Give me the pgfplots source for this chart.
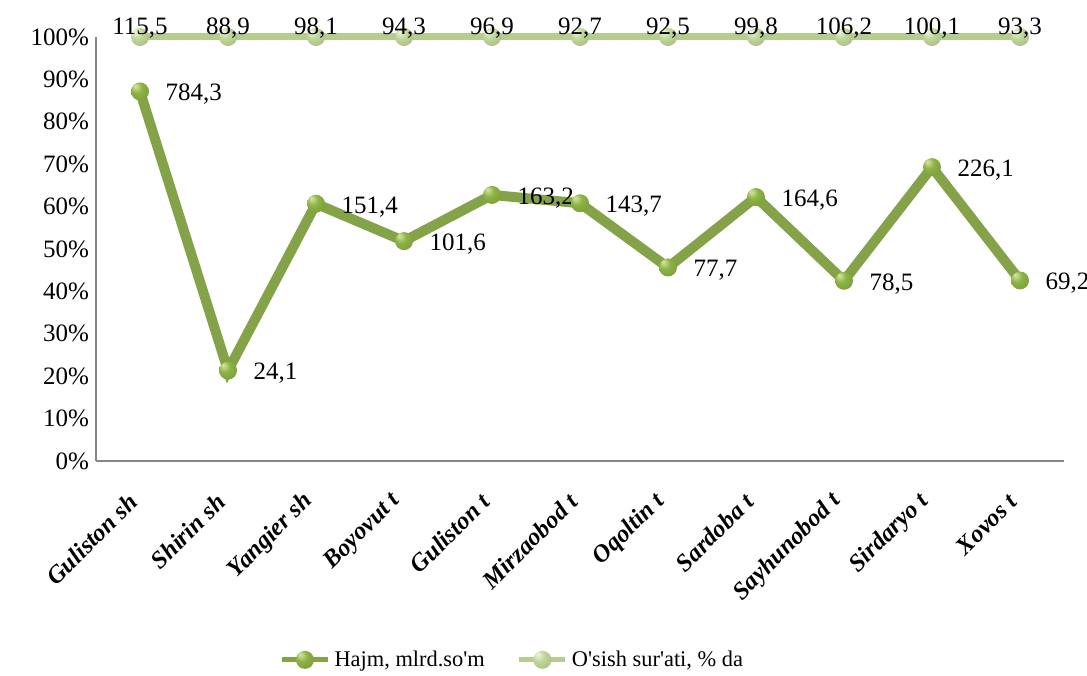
\documentclass[border=0pt]{standalone}
\usepackage{fontspec}
\setmainfont{Liberation Serif}
\usepackage{pgfplots}
\pgfplotsset{compat=1.18}
\usepackage{pgfplotstable}
\definecolor{hajm}{RGB}{132,163,72}
\definecolor{osish}{RGB}{181,205,145}
\definecolor{axgray}{RGB}{134,134,134}
\definecolor{hhl}{RGB}{215,232,165}
\definecolor{hmid}{RGB}{140,178,68}
\definecolor{hedge}{RGB}{92,122,40}
\definecolor{ohl}{RGB}{240,247,225}
\definecolor{omid}{RGB}{192,214,152}
\definecolor{oedge}{RGB}{140,165,105}

\pgfdeclareradialshading{hajmballsh}{\pgfpoint{-14bp}{16bp}}{color(0bp)=(hhl); color(16bp)=(hmid); color(40bp)=(hmid!85!black); color(50bp)=(hedge)}
\pgfdeclareradialshading{osishballsh}{\pgfpoint{-14bp}{16bp}}{color(0bp)=(ohl); color(16bp)=(omid); color(40bp)=(omid!85!black); color(50bp)=(oedge)}
\pgfdeclareplotmark{hball}{\pgfpathcircle{\pgfpointorigin}{\pgfplotmarksize}\pgfshadepath{hajmballsh}{0}\pgfusepath{}}
\pgfdeclareplotmark{oball}{\pgfpathcircle{\pgfpointorigin}{\pgfplotmarksize}\pgfshadepath{osishballsh}{0}\pgfusepath{}}

% Hajm plotted as share of (Hajm + O'sish) in a 100% stacked line chart
\pgfplotstableread{
x y lab
0 87.16 784,3
1 21.33 24,1
2 60.68 151,4
3 51.86 101,6
4 62.75 163,2
5 60.79 143,7
6 45.65 77,7
7 62.25 164,6
8 42.50 78,5
9 69.31 226,1
10 42.58 69,2
}\hajmtab

\pgfplotstableread{
x y lab
0 100 115,5
1 100 88,9
2 100 98,1
3 100 94,3
4 100 96,9
5 100 92,7
6 100 92,5
7 100 99,8
8 100 106,2
9 100 100,1
10 100 93,3
}\osishtab

\begin{document}
\begin{tikzpicture}
\path[use as bounding box] (0,0) rectangle (543.5pt,337.5pt);
\begin{axis}[
  at={(48pt,107pt)}, anchor=south west,
  scale only axis, width=484pt, height=212pt,
  xmin=-0.5, xmax=10.5, ymin=0, ymax=100,
  clip=false,
  axis x line*=bottom, axis y line*=left,
  axis line style={draw=axgray, line width=1pt, -},
  major tick length=0pt,
  ytick={0,10,...,100},
  yticklabel={\pgfmathprintnumber{\tick}\%},
  /pgf/number format/assume math mode=true,
  yticklabel style={font=\fontsize{12.5}{15}\selectfont},
  xtick={0,...,10},
  xticklabels={Guliston sh, Shirin sh, Yangier sh, Boyovut t, Guliston t, Mirzaobod t, Oqoltin t, Sardoba t, Sayhunobod t, Sirdaryo t, Xovos t},
  xticklabel style={font=\fontsize{12.3}{14}\selectfont\bfseries\itshape, yshift=-16pt, xshift=-1pt, rotate=45, anchor=east},
  legend style={at={(axis description cs:0.431,-0.469)}, anchor=center, draw=none, fill=none,
    legend columns=2, font=\fontsize{11.2}{13}\selectfont,
    /tikz/every even column/.append style={column sep=14pt}},
  legend image code/.code={\draw[line width=2.6pt, mark repeat=2,mark phase=2] plot coordinates {(0pt,0pt)(11.5pt,0pt)(23pt,0pt)};},
  point meta=explicit symbolic,
  nodes near coords,
]
\addplot[color=hajm, line width=5pt, mark=hball, mark size=4.5pt,
  every node near coord/.append style={anchor=west, xshift=7pt, yshift=-1.5pt, text=black, font=\fontsize{12.5}{15}\selectfont}]
  table[x=x, y=y, meta=lab] {\hajmtab};
\addlegendentry{Hajm, mlrd.so\textquotesingle m}
\addplot[color=osish, line width=3.5pt, mark=oball, mark size=4.5pt,
  every node near coord/.append style={anchor=center, yshift=4.5pt, text=black, font=\fontsize{12.5}{15}\selectfont}]
  table[x=x, y=y, meta=lab] {\osishtab};
\addlegendentry{O\textquotesingle sish sur\textquotesingle ati, \% da}
\end{axis}
\end{tikzpicture}
\end{document}
